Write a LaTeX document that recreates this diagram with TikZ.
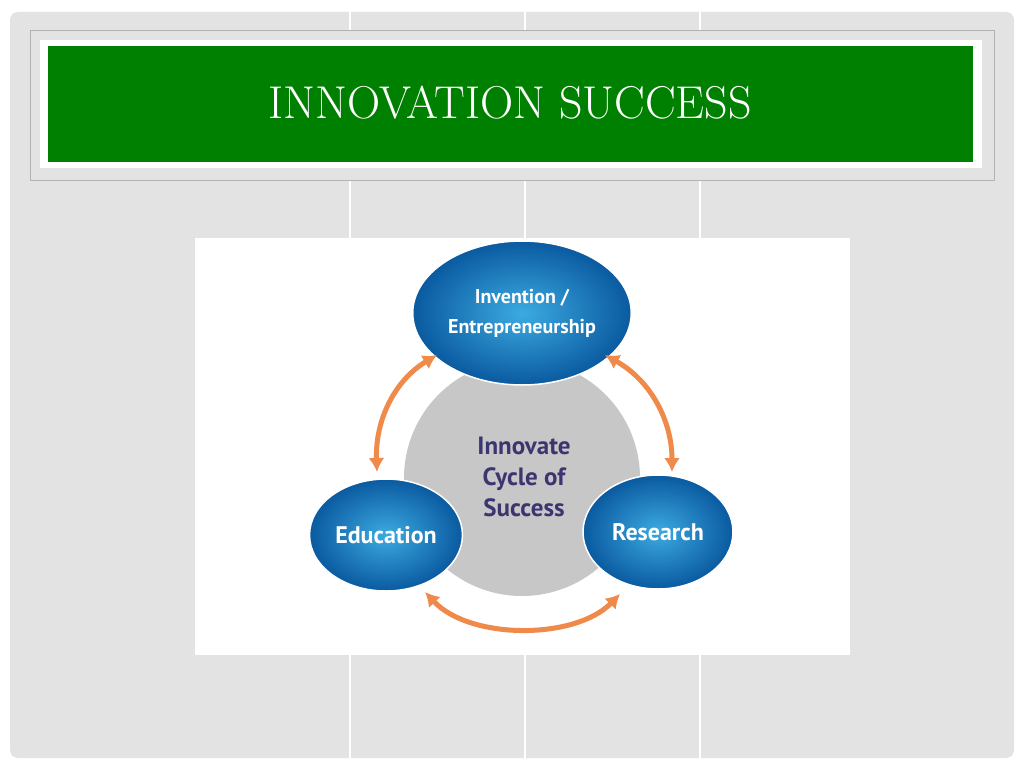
\documentclass[tikz,border=0pt]{standalone}
\usepackage{fontspec}
\newfontfamily\dg{PT Sans}
\usetikzlibrary{arrows.meta,shadings}
\definecolor{bgg}{HTML}{E3E3E3}
\definecolor{grn}{HTML}{008000}
\definecolor{org}{HTML}{F08A4B}
\definecolor{purp}{HTML}{3B3570}
\tikzset{
 blob/.style={ellipse,inner color={rgb,255:red,60;green,170;blue,225},outer color={rgb,255:red,10;green,90;blue,160},draw=white,line width=1.5pt,text=white,font=\dg\bfseries,align=center},
 arr/.style={org,line width=5pt,{Latex[length=14pt,width=16pt]}-{Latex[length=14pt,width=16pt]}}
}
\usetikzlibrary{shapes.geometric}
\begin{document}
\begin{tikzpicture}[x=1pt,y=-1pt]
\useasboundingbox (0,0) rectangle (1024,768);
\fill[white] (0,0) rectangle (1024,768);
\fill[bgg,rounded corners=8pt] (10,12) rectangle (1014,758);
\foreach \x in {350,525,700} \draw[white,line width=1.2pt] (\x,12) -- (\x,758);
\filldraw[fill=bgg,draw=black!30] (30,30) rectangle (994,180);
\fill[white] (40,40) rectangle (982,168);
\fill[grn] (48,46) rectangle (973,162);
\node[text=white,font=\fontsize{46}{50}\selectfont] (title) at (510,103) {INNOVATION SUCCESS};
\fill[white] (195,238) rectangle (850,655);
\node[circle,fill=black!22,minimum size=236pt,inner sep=0pt] (core) at (522,478) {};
\node[text=purp,font=\dg\bfseries\fontsize{25}{31}\selectfont,align=center] (ct) at (524,477) {Innovate\\Cycle of\\Success};
\node[blob,minimum width=194pt,minimum height=144pt,font=\dg\bfseries\fontsize{20}{30}\selectfont] (inv) at (522,313) {Invention /\\Entrepreneurship};
\node[blob,minimum width=146pt,minimum height=112pt,font=\dg\bfseries\fontsize{24}{28}\selectfont] (edu) at (386,535) {Education};
\node[blob,minimum width=150pt,minimum height=114pt,font=\dg\bfseries\fontsize{24}{28}\selectfont] (res) at (658,532) {Research};
\coordinate (a1) at (377,472); \coordinate (a2) at (437,355);
\coordinate (b1) at (605,355); \coordinate (b2) at (672,472);
\coordinate (c1) at (425,592); \coordinate (c2) at (620,594);
\draw[arr] (a1) .. controls (375,420) and (395,380) .. (a2);
\draw[arr] (b1) .. controls (650,380) and (672,420) .. (b2);
\draw[arr] (c1) .. controls (470,640) and (575,640) .. (c2);
\end{tikzpicture}
\end{document}
